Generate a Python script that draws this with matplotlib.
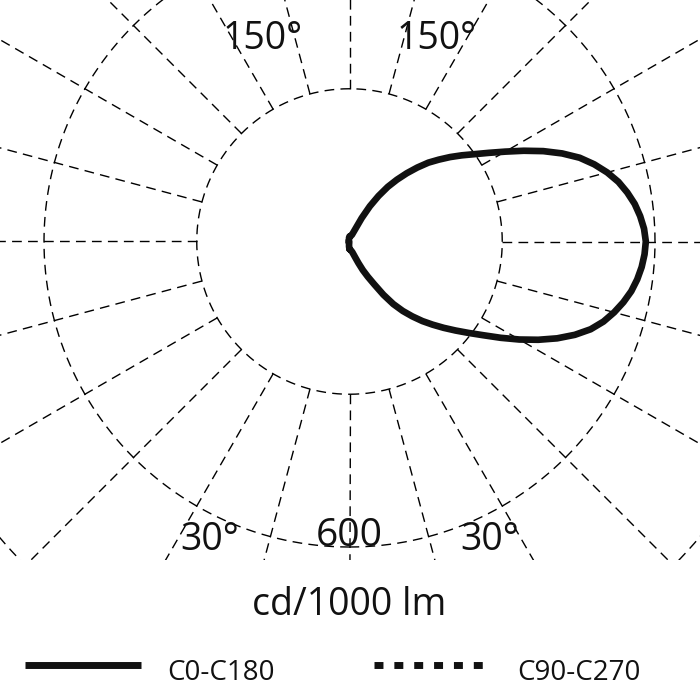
import numpy as np
import matplotlib
matplotlib.use("Agg")
import matplotlib.pyplot as plt
from matplotlib.lines import Line2D
from matplotlib.patches import Rectangle

plt.rcParams['font.family'] = ['Open Sans', 'DejaVu Sans']

# ---- data (cd/1000 lm), gamma in degrees ----
gamma = [0, 2.5, 5, 7.5, 10, 12.5, 15, 17.5, 20, 22.5, 25, 27.5, 30, 32.5, 35, 37.5,
         40, 42.5, 45, 47.5, 50, 52.5, 55, 57.5, 60, 62.5, 65, 67.5, 70, 72.5, 75,
         77.5, 80, 82.5, 85, 87.5, 90, 92.5, 95, 97.5, 100, 102.5, 105, 107.5, 110,
         112.5, 115, 117.5, 120, 122.5, 125, 127.5, 130, 132.5, 135, 137.5, 140,
         142.5, 145, 147.5, 150, 152.5, 155, 157.5, 160, 162.5, 165, 167.5, 170,
         172.5, 175, 177.5, 180]
c0 = [15, 15, 16, 17, 18, 20, 22, 27, 34, 46, 62, 78, 97, 124, 150, 172,
      192, 212, 231, 251, 272, 295, 321, 352, 385, 418, 450, 479, 504, 523, 538,
      551, 562, 570, 576, 580, 582, 579, 573, 565, 554, 541, 524, 504, 481,
      452, 420, 386, 353, 324, 299, 278, 258, 238, 219, 197, 175,
      153, 131, 106, 80, 52, 28, 18, 14, 13, 12, 11, 11,
      10, 10, 10, 10]
c180 = [15, 12, 10, 7, 5, 3, 2, 2, 2, 2, 2, 2, 2, 2, 2, 2,
        2, 2, 2, 2, 2, 2, 2, 2, 2, 2, 2, 2, 2, 2, 2,
        2, 2, 2, 2, 2, 2, 2, 2, 2, 2, 2, 2, 2, 2,
        2, 2, 2, 2, 2, 2, 2, 2, 2, 2, 2, 2,
        2, 2, 2, 2, 2, 2, 2, 2, 2, 3, 4, 5,
        7, 8, 9, 10]
rings = [300, 600, 900]
spoke_angles = list(range(0, 360, 15))
angle_labels = ["150°", "150°", "30°", "30°"]
ring_label = "600"
unit_label = "cd/1000 lm"
legend_labels = ["C0-C180", "C90-C270"]

# ---- layout ----
W = H = 700
fig = plt.figure(figsize=(7, 7), dpi=100)
R_MAX = 1000
px_per_cd = 305.5 / 600
cx, cy = 349.5, 241.5           # centre in pixels from top-left
rp = R_MAX * px_per_cd
ax = fig.add_axes([(cx - rp) / W, (H - cy - rp) / H, 2 * rp / W, 2 * rp / H],
                  projection='polar')
ax.set_theta_zero_location('S')
ax.set_ylim(0, R_MAX)
ax.axis('off')

grid_kw = dict(color='black', lw=1.0, ls=(0, (7, 4.5)))
th = np.linspace(0, 2 * np.pi, 1441)
for r in rings:
    ax.plot(th, np.full_like(th, r), **grid_kw)
for a in spoke_angles:
    t = np.radians(a)
    ax.plot([t, t], [rings[0], R_MAX], **grid_kw)

g = np.radians(np.array(gamma, dtype=float))
theta = np.concatenate([g, -g[::-1]])
rr = np.concatenate([np.array(c0, float), np.array(c180, float)[::-1]])
ax.plot(theta, rr, color='#111111', lw=4.8, solid_joinstyle='round',
        solid_capstyle='round', zorder=3)

# clip bottom strip
fig.add_artist(Rectangle((0, 0), 1, 140 / H, transform=fig.transFigure,
                         facecolor='white', edgecolor='none', zorder=5))

def ftext(x, y, s, size, ha='center'):
    fig.text(x / W, 1 - y / H, s, fontsize=size, ha=ha, va='baseline',
             color='#111111', zorder=6)

ftext(263, 49, angle_labels[0], 27)
ftext(437, 49, angle_labels[1], 27)
ftext(210, 550, angle_labels[2], 27)
ftext(490, 550, angle_labels[3], 27)
ftext(349, 546, ring_label, 28)
ftext(349, 615, unit_label, 27)

# legend
ly = 1 - 664.5 / H
fig.add_artist(Line2D([25 / W, 141 / W], [ly, ly], transform=fig.transFigure,
                      color='#111111', lw=5.0, solid_capstyle='butt', zorder=6))
fig.add_artist(Line2D([374 / W, 488 / W], [ly, ly], transform=fig.transFigure,
                      color='#111111', lw=5.0, ls=(0, (1.29, 1.57)),
                      dash_capstyle='butt', zorder=6))
ftext(167, 680, legend_labels[0], 20, ha='left')
ftext(517, 680, legend_labels[1], 20, ha='left')

fig.savefig('out.png', dpi=100, facecolor='white')
